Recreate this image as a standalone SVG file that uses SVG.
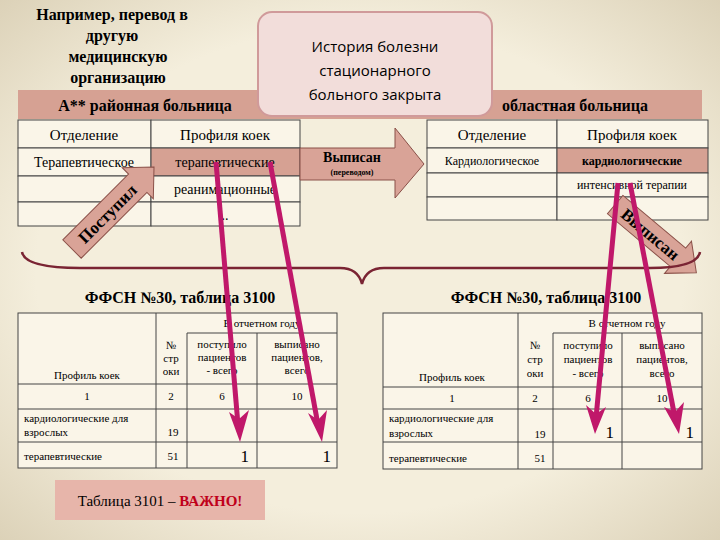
<svg xmlns="http://www.w3.org/2000/svg" width="720" height="540" viewBox="0 0 720 540">
<defs>
<radialGradient id="bg" cx="50%" cy="50%" r="75%"><stop offset="0.6" stop-color="#F4EEDC"/><stop offset="1" stop-color="#D8CDB2"/></radialGradient>
<marker id="mh" viewBox="0 0 20 28" refX="10" refY="26" markerWidth="18" markerHeight="26" orient="auto" markerUnits="userSpaceOnUse"><path d="M0,0 L10,28 L20,0 L10,10 Z" fill="#C0186A" transform="rotate(-90 10 14)"/></marker>
<style>
.t{font-family:"Liberation Serif",serif;fill:#000}
.b{font-weight:bold}
.c{fill:#FAF5E8;stroke:#444;stroke-width:1}
.p{fill:#D6A193;stroke:#444;stroke-width:1}
.s{font-family:"Liberation Serif",serif;font-size:11px;fill:#000}
.m{stroke:#C0186A;stroke-width:5;fill:none}
.ar{fill:#D9A397;stroke:#8A5048;stroke-width:1}
.h{fill:#C0186A}
</style>
</defs>
<rect width="720" height="540" fill="url(#bg)"/>
<g id="title" class="t b" font-size="16" text-anchor="middle">
<text x="112" y="20">Например, перевод в</text>
<text x="112" y="41">другую</text>
<text x="118" y="62">медицинскую</text>
<text x="118" y="83">организацию</text>
</g>
<g id="header">
<rect x="18" y="90" width="684" height="29" fill="#D6A193"/>
<text class="t b" x="145" y="111" font-size="16" text-anchor="middle">А** районная больница</text>
<text class="t b" x="575" y="111" font-size="16" text-anchor="middle">областная больница</text>
</g>
<g id="left-table">
<rect class="c" x="18" y="120" width="133" height="28"/><rect class="c" x="151" y="120" width="149" height="28"/>
<rect class="c" x="18" y="148" width="133" height="28"/><rect class="p" x="151" y="148" width="149" height="28"/>
<rect class="c" x="18" y="176" width="133" height="26"/><rect class="c" x="151" y="176" width="149" height="26"/>
<rect class="c" x="18" y="202" width="133" height="24"/><rect class="c" x="151" y="202" width="149" height="24"/>
<text class="t" x="84" y="140" font-size="15" text-anchor="middle">Отделение</text>
<text class="t" x="225" y="140" font-size="15" text-anchor="middle">Профиля коек</text>
<text class="t" x="84" y="167" font-size="14" text-anchor="middle">Терапевтическое</text>
<text class="t" x="225" y="167" font-size="14" text-anchor="middle">терапевтические</text>
<text class="t" x="225" y="194" font-size="14" text-anchor="middle">реанимационные</text>
<text class="t" x="225" y="220" font-size="14" text-anchor="middle">..</text>
</g>
<g id="right-table">
<rect class="c" x="427" y="120" width="130" height="28"/><rect class="c" x="557" y="120" width="151" height="28"/>
<rect class="c" x="427" y="148" width="130" height="25"/><rect class="p" x="557" y="148" width="151" height="25"/>
<rect class="c" x="427" y="173" width="130" height="24"/><rect class="c" x="557" y="173" width="151" height="24"/>
<rect class="c" x="427" y="197" width="130" height="23"/><rect class="c" x="557" y="197" width="151" height="23"/>
<text class="t" x="492" y="140" font-size="15" text-anchor="middle">Отделение</text>
<text class="t" x="632" y="140" font-size="15" text-anchor="middle">Профиля коек</text>
<text class="t" x="492" y="165" font-size="12" text-anchor="middle">Кардиологическое</text>
<text class="t b" x="632" y="165" font-size="12" text-anchor="middle">кардиологические</text>
<text class="t" x="632" y="189" font-size="12" text-anchor="middle">интенсивной терапии</text>
<text class="t" x="632" y="212" font-size="12" text-anchor="middle">...</text>
</g>
<g id="arrow-vypisan">
<path class="ar" d="M300,148 L395,148 L395,128 L424,164 L395,198 L395,180 L300,180 Z"/>
<text class="t b" x="352" y="162" font-size="14" text-anchor="middle">Выписан</text>
<text class="t b" x="352" y="175" font-size="8" text-anchor="middle">(переводом)</text>
</g>
<g id="callout">
<rect x="258" y="12" width="234" height="104" rx="14" fill="#F2DDDA" stroke="#D09A9A" stroke-width="2"/>
<text x="375" y="52" font-family="Open Sans,sans-serif" font-size="15" text-anchor="middle">История болезни</text>
<text x="375" y="76" font-family="Open Sans,sans-serif" font-size="15" text-anchor="middle">стационарного</text>
<text x="375" y="100" font-family="Open Sans,sans-serif" font-size="15" text-anchor="middle">больного закрыта</text>
</g>
<g id="arrow-postupil" transform="translate(113,208) rotate(-45)">
<path class="ar" d="M-58,-13 L35,-13 L35,-22 L58,0 L35,22 L35,13 L-58,13 Z"/>
<text class="t b" x="-8" y="6" font-size="17" text-anchor="middle">Поступил</text>
</g>
<g id="arrow-vypisan2" transform="translate(655,238) rotate(40)">
<path class="ar" d="M-52,-12 L30,-12 L30,-21 L54,0 L30,21 L30,12 L-52,12 Z"/>
<text class="t b" x="-6" y="6" font-size="17" text-anchor="middle">Выписан</text>
</g>
<g id="brace"><path d="M22,252 Q25,268 80,268 L340,268 Q358,268 362,284 Q366,268 384,268 L650,268 Q697,268 700,252" fill="none" stroke="#7A2433" stroke-width="2.5"/></g>
<g id="titles" class="t b" font-size="16" text-anchor="middle">
<text x="180" y="303">ФФСН №30,  таблица 3100</text>
<text x="546" y="303">ФФСН №30,  таблица 3100</text>
</g>
<g id="lower-left">
<rect class="c" x="18" y="313" width="319" height="155"/>
<g stroke="#444" fill="none"><path d="M156,313V468M187,333V468M257,333V468M187,333H337M18,384H337M18,409H337M18,442H337"/></g>
<text class="s" x="262" y="327" text-anchor="middle">В отчетном году</text>
<text class="s" x="87" y="379" text-anchor="middle">Профиль коек</text>
<text class="s" x="171" y="349" text-anchor="middle">№</text><text class="s" x="171" y="362" text-anchor="middle">стр</text><text class="s" x="171" y="375" text-anchor="middle">оки</text>
<text class="s" x="222" y="348" text-anchor="middle">поступило</text><text class="s" x="222" y="361" text-anchor="middle">пациентов</text><text class="s" x="222" y="374" text-anchor="middle">- всего</text>
<text class="s" x="297" y="348" text-anchor="middle">выписано</text><text class="s" x="297" y="361" text-anchor="middle">пациентов,</text><text class="s" x="297" y="374" text-anchor="middle">всего</text>
<text class="s" x="87" y="400" text-anchor="middle">1</text><text class="s" x="171" y="400" text-anchor="middle">2</text><text class="s" x="222" y="400" text-anchor="middle">6</text><text class="s" x="297" y="400" text-anchor="middle">10</text>
<text class="s" x="24" y="422">кардиологические для</text><text class="s" x="24" y="436">взрослых</text><text class="s" x="173" y="436" text-anchor="middle">19</text>
<text class="s" x="24" y="460">терапевтические</text><text class="s" x="173" y="460" text-anchor="middle">51</text>
<text class="t" x="249" y="462" font-size="17" text-anchor="end">1</text><text class="t" x="331" y="462" font-size="17" text-anchor="end">1</text>
</g>
<g id="lower-right">
<rect class="c" x="383" y="313" width="319" height="156"/>
<g stroke="#444" fill="none"><path d="M518,313V469M553,333V469M622,333V469M553,333H702M383,387H702M383,409H702M383,442H702"/></g>
<text class="s" x="627" y="327" text-anchor="middle">В отчетном году</text>
<text class="s" x="452" y="381" text-anchor="middle">Профиль коек</text>
<text class="s" x="535" y="349" text-anchor="middle">№</text><text class="s" x="535" y="363" text-anchor="middle">стр</text><text class="s" x="535" y="377" text-anchor="middle">оки</text>
<text class="s" x="588" y="349" text-anchor="middle">поступило</text><text class="s" x="588" y="363" text-anchor="middle">пациентов</text><text class="s" x="588" y="377" text-anchor="middle">- всего</text>
<text class="s" x="662" y="349" text-anchor="middle">выписано</text><text class="s" x="662" y="363" text-anchor="middle">пациентов,</text><text class="s" x="662" y="377" text-anchor="middle">всего</text>
<text class="s" x="452" y="402" text-anchor="middle">1</text><text class="s" x="535" y="402" text-anchor="middle">2</text><text class="s" x="588" y="402" text-anchor="middle">6</text><text class="s" x="662" y="402" text-anchor="middle">10</text>
<text class="s" x="389" y="422">кардиологические для</text><text class="s" x="389" y="437">взрослых</text><text class="s" x="540" y="438" text-anchor="middle">19</text>
<text class="s" x="389" y="462">терапевтические</text><text class="s" x="540" y="462" text-anchor="middle">51</text>
<text class="t" x="614" y="438" font-size="17" text-anchor="end">1</text><text class="t" x="694" y="438" font-size="17" text-anchor="end">1</text>
</g>
<g id="connectors">
<path class="m" d="M216,162 L238,425"/>
<path class="m" d="M270,162 L318,425"/>
<path class="m" d="M618,183 L596,418"/>
<path class="m" d="M630,183 L675,418"/>
<path class="h" d="M229,412 L240,442 L249,410 L239,419 Z"/>
<path class="h" d="M308,413 L322,442 L327,410 L318,420 Z"/>
<path class="h" d="M586,405 L595,434 L606,407 L596,414 Z"/>
<path class="h" d="M664,407 L679,434 L684,402 L675,412 Z"/>
</g>
<g id="note">
<rect x="55" y="480" width="210" height="40" fill="#E7B5AA"/>
<text class="t" x="160" y="506" font-size="15" text-anchor="middle">Таблица 3101 – <tspan fill="#C0001A" font-weight="bold">ВАЖНО!</tspan></text>
</g>
</svg>
